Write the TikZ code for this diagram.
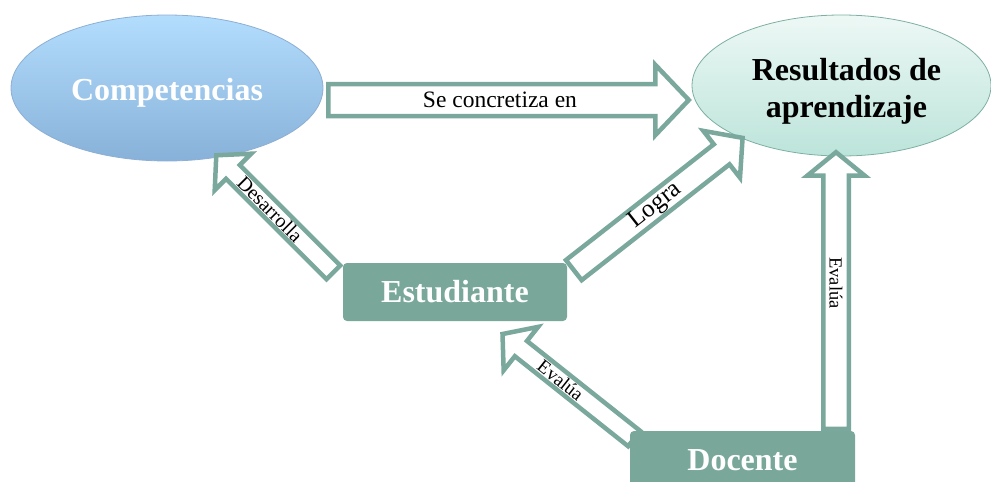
\documentclass[tikz,border=0pt]{standalone}
\usepackage{fontspec}
\setmainfont{Liberation Serif}
\usetikzlibrary{shapes.geometric,calc}
\definecolor{arrgreen}{HTML}{7AA89C}
\definecolor{boxgreen}{HTML}{79A89B}
\definecolor{comptop}{HTML}{B3DDFD}
\definecolor{compbot}{HTML}{88B1D9}
\definecolor{compborder}{HTML}{8DAFD3}
\definecolor{restop}{HTML}{EDF8F5}
\definecolor{resbot}{HTML}{BCE4DA}
\definecolor{resborder}{HTML}{7EAFA3}
\pgfdeclarelayer{fg}
\pgfsetlayers{main,fg}
\newcommand{\blockarrow}[6]{%
  \coordinate (#6) at ($(#2)!#5pt!(#1)$);
  \draw[blockarr] ($(#1)!#3pt!90:(#2)$) -- ($(#6)!#3pt!90:(#2)$) -- ($(#6)!#4pt!90:(#2)$) -- (#2)
    -- ($(#6)!#4pt!-90:(#2)$) -- ($(#6)!#3pt!-90:(#2)$) -- ($(#1)!#3pt!-90:(#2)$) -- cycle;
}
\tikzset{
  blockarr/.style={draw=arrgreen, line width=4.5pt, fill=white, line join=miter},
  greenbox/.style={rectangle, rounded corners=4pt, fill=boxgreen, text=white,
    font=\fontsize{32}{36}\selectfont\bfseries, minimum width=224pt, minimum height=58pt, inner sep=0pt},
  lbl/.style={inner sep=0pt, text=black}
}
\begin{document}
\begin{tikzpicture}[x=1pt,y=-1pt]
\useasboundingbox (0,0) rectangle (991,482);
% ellipses
\node[ellipse, minimum width=312pt, minimum height=146pt, inner sep=0pt, draw=compborder, line width=0.8pt,
  top color=comptop, bottom color=compbot,
  label={[yshift=-5pt, text=white, font=\fontsize{32}{36}\selectfont\bfseries]center:Competencias}] (comp) at (167,88) {};
\node[ellipse, minimum width=299pt, minimum height=141pt, inner sep=0pt, draw=resborder, line width=0.8pt,
  top color=restop, bottom color=resbot,
  label={[xshift=5pt, yshift=-5.5pt, align=center, text=black, font=\fontsize{32}{37}\selectfont\bfseries]center:Resultados de\\aprendizaje}] (res) at (841.5,85.5) {};
% boxes
\begin{pgfonlayer}{fg}
\node[greenbox] (est) at (455,292) {Estudiante};
\node[greenbox, minimum width=225pt] (doc) at (742.5,460) {Docente};
\end{pgfonlayer}
% arrow end points
\coordinate (a1s) at (328.25,100);  \coordinate (a1e) at (688.8,100);
\coordinate (a2s) at (333.4,272.4); \coordinate (a2e) at (216.3,155.3);
\coordinate (a3s) at (573.8,270.1); \coordinate (a3e) at (742.6,137.9);
\coordinate (a4s) at (634.2,438.6); \coordinate (a4e) at (502.5,334);
\coordinate (a5s) at (836,428.75);  \coordinate (a5e) at (836,152.2);
% arrows
\blockarrow{a1s}{a1e}{16}{35.2}{33.5}{a1h}
\blockarrow{a2s}{a2e}{9.75}{25.75}{23.5}{a2h}
\blockarrow{a3s}{a3e}{12.75}{29.75}{26.6}{a3h}
\blockarrow{a4s}{a4e}{9.75}{27.75}{23.5}{a4h}
\blockarrow{a5s}{a5e}{12.75}{28.75}{23.5}{a5h}
% labels
\path (a1s) -- (a1h) node[lbl, pos=0.525, font=\fontsize{23.5}{28}\selectfont] (l1) {Se concretiza en};
\path (a2s) -- (a2h) node[lbl, sloped, pos=0.63, font=\fontsize{20}{24}\selectfont] (l2) {Desarrolla};
\path (a3s) -- (a3h) node[lbl, sloped, pos=0.554, font=\fontsize{25}{30}\selectfont] (l3) {Logra};
\path (a4s) -- (a4h) node[lbl, sloped, pos=0.649, font=\fontsize{19}{23}\selectfont] (l4) {Evalúa};
\path (a5s) -- (a5h) node[lbl, rotate=-90, pos=0.576, font=\fontsize{18.5}{22}\selectfont] (l5) {Evalúa};
\end{tikzpicture}
\end{document}
